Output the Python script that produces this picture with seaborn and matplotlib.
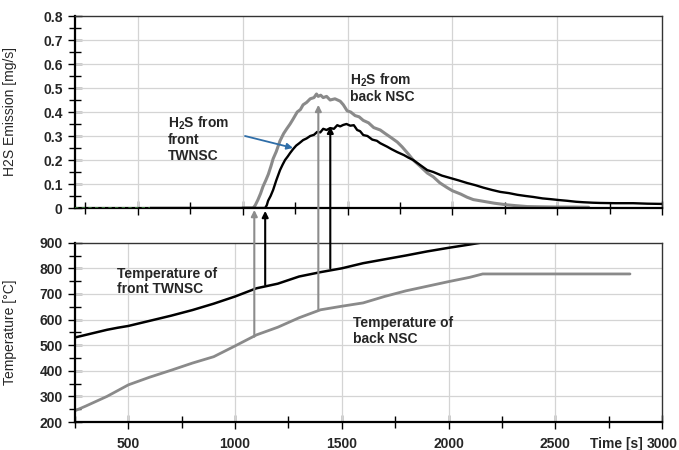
import matplotlib
matplotlib.use("Agg")
import matplotlib.pyplot as plt
import matplotlib.transforms as mtransforms
from matplotlib.ticker import MultipleLocator, FuncFormatter
import seaborn as sns
import pandas as pd

# ---------------- data ----------------
h2s_back_t = [1000, 1050, 1060, 1073, 1085, 1097, 1110, 1122, 1135, 1145, 1160, 1178, 1195, 1210,
              1226, 1240, 1260, 1275, 1288, 1305, 1322, 1340, 1352, 1360, 1372, 1384, 1400, 1417,
              1440, 1465, 1480, 1498, 1515, 1536, 1555, 1575, 1600, 1625, 1656, 1680, 1705, 1737,
              1760, 1790, 1813, 1845, 1880, 1909, 1940, 1975, 2000, 2040, 2070, 2100, 2147, 2200,
              2262, 2300, 2357, 2420, 2500, 2580, 2650]
h2s_back_v = [0, 0, 0.012, 0.035, 0.06, 0.09, 0.115, 0.14, 0.175, 0.205, 0.235, 0.28, 0.31, 0.33,
              0.35, 0.37, 0.40, 0.41, 0.43, 0.44, 0.455, 0.46, 0.475, 0.465, 0.47, 0.46, 0.465, 0.45,
              0.455, 0.445, 0.43, 0.405, 0.40, 0.385, 0.38, 0.365, 0.355, 0.335, 0.325, 0.31, 0.295, 0.275,
              0.255, 0.225, 0.20, 0.175, 0.146, 0.13, 0.105, 0.085, 0.072, 0.058, 0.045, 0.035, 0.028, 0.02,
              0.013, 0.01, 0.006, 0.005, 0.004, 0.004, 0.003]

h2s_front_t = [558, 1107, 1115, 1121, 1133, 1145, 1160, 1178, 1190, 1202, 1215, 1226, 1240, 1255,
               1270, 1288, 1305, 1322, 1340, 1355, 1370, 1384, 1400, 1417, 1435, 1451, 1465, 1479,
               1495, 1513, 1530, 1546, 1560, 1575, 1595, 1618, 1640, 1656, 1690, 1710, 1737, 1770,
               1790, 1813, 1845, 1880, 1909, 1950, 1990, 2030, 2071, 2110, 2147, 2190, 2229, 2270,
               2310, 2350, 2386, 2430, 2467, 2510, 2548, 2590, 2625, 2670, 2706, 2780, 2863, 2930, 3000]
h2s_front_v = [0, 0, 0.012, 0.03, 0.05, 0.075, 0.115, 0.158, 0.18, 0.20, 0.215, 0.229, 0.245, 0.26,
               0.27, 0.283, 0.29, 0.30, 0.305, 0.317, 0.315, 0.33, 0.325, 0.333, 0.33, 0.345, 0.34, 0.346,
               0.35, 0.343, 0.345, 0.325, 0.32, 0.304, 0.30, 0.285, 0.28, 0.27, 0.255, 0.245, 0.233, 0.22,
               0.21, 0.20, 0.18, 0.158, 0.15, 0.135, 0.125, 0.115, 0.104, 0.095, 0.085, 0.075, 0.067, 0.062,
               0.055, 0.05, 0.046, 0.04, 0.037, 0.033, 0.03, 0.026, 0.024, 0.022, 0.021, 0.02, 0.02, 0.018, 0.017]

baseline_t = [200, 558]
baseline_v = [0, 0]

temp_front_t = [250, 300, 400, 450, 500, 600, 700, 800, 900, 1000, 1100, 1200, 1300, 1400, 1500,
                1600, 1700, 1800, 1900, 2000, 2100, 2150, 3000]
temp_front_v = [530, 540, 560, 568, 575, 595, 615, 637, 662, 690, 722, 740, 768, 785, 800,
                820, 835, 850, 866, 880, 893, 900, 900]

temp_back_t = [250, 300, 400, 500, 600, 700, 800, 900, 1000, 1100, 1200, 1300, 1400, 1500, 1600,
               1700, 1800, 1900, 2000, 2100, 2160, 2850]
temp_back_v = [244, 262, 300, 345, 375, 402, 430, 455, 497, 540, 570, 607, 638, 652, 665,
               690, 712, 730, 748, 765, 778, 778]

# vertical arrows: time, base temperature (lower panel), tip H2S value (upper panel)
arrow_t = [1090, 1141, 1390, 1446]
arrow_base_T = [533, 735, 637, 800]
arrow_tip_v = [-0.008, -0.012, 0.43, 0.339]
arrow_color = ["#8c8c8c", "#000000", "#8c8c8c", "#000000"]

x_labels = ["500", "1000", "1500", "2000", "2500", "3000"]

# ---------------- style ----------------
sns.set_style("white")
plt.rcParams["font.family"] = ["Liberation Sans", "DejaVu Sans"]
plt.rcParams["font.weight"] = "bold"
plt.rcParams["mathtext.fontset"] = "custom"
plt.rcParams["mathtext.rm"] = "Liberation Sans:bold"
plt.rcParams["mathtext.bf"] = "Liberation Sans:bold"

fig = plt.figure(figsize=(6.79, 4.5), dpi=100)
W, H = 679, 450
ax_top = fig.add_axes([75 / W, 1 - 208 / H, (662 - 75) / W, (208 - 16) / H])
ax_bot = fig.add_axes([75 / W, 1 - 422 / H, (662 - 75) / W, (422 - 242.7) / H])

gray = "#8a8a8a"
grid_c = "#d4d4d4"

# ---------------- axes limits, locators, grid ----------------
ax_top.set_xlim(200, 3000)
ax_top.set_ylim(0, 0.8)
ax_top.yaxis.set_major_locator(MultipleLocator(0.1))
ax_top.yaxis.set_minor_locator(MultipleLocator(0.05))
ax_bot.set_xlim(250, 3000)
ax_bot.set_ylim(200, 900)
ax_bot.yaxis.set_major_locator(MultipleLocator(100))
ax_bot.yaxis.set_minor_locator(MultipleLocator(50))
for ax in (ax_top, ax_bot):
    ax.xaxis.set_major_locator(MultipleLocator(500))
    ax.xaxis.set_minor_locator(MultipleLocator(250))
    x0, x1 = ax.get_xlim()
    y0, y1 = ax.get_ylim()
    gx = [v for v in ax.xaxis.get_major_locator().tick_values(x0, x1) if x0 < v < x1 - 1e-6]
    gy = [v for v in ax.yaxis.get_major_locator().tick_values(y0, y1) if y0 + 1e-9 < v < y1 - 1e-9]
    ax.vlines(gx, y0, y1, colors=grid_c, lw=0.9, zorder=2.2)
    ax.hlines(gy, x0, x1, colors=grid_c, lw=0.9, zorder=2.2)
    ax.set_xlim(x0, x1)
    ax.set_ylim(y0, y1)

# ---------------- curves ----------------
df_back = pd.DataFrame({"t": h2s_back_t, "v": h2s_back_v})
df_front = pd.DataFrame({"t": h2s_front_t, "v": h2s_front_v})
sns.lineplot(data=df_back, x="t", y="v", ax=ax_top, color=gray, lw=2.2, estimator=None, sort=False, zorder=3)
sns.lineplot(data=df_front, x="t", y="v", ax=ax_top, color="black", lw=1.7, estimator=None, sort=False, zorder=4)
sns.lineplot(x=baseline_t, y=baseline_v, ax=ax_top, color="#3a7d3a", lw=1.2, ls=(0, (2, 2)),
             estimator=None, sort=False, zorder=6)

df_tf = pd.DataFrame({"t": temp_front_t, "v": temp_front_v})
df_tb = pd.DataFrame({"t": temp_back_t, "v": temp_back_v})
sns.lineplot(data=df_tb, x="t", y="v", ax=ax_bot, color=gray, lw=2.0, estimator=None, sort=False, zorder=3)
sns.lineplot(data=df_tf, x="t", y="v", ax=ax_bot, color="black", lw=1.8, estimator=None, sort=False, zorder=4)

# ---------------- ticks & spines ----------------
ax_top.yaxis.set_major_formatter(FuncFormatter(lambda v, p: "0" if abs(v) < 1e-9 else f"{v:.1f}"))
for ax in (ax_top, ax_bot):
    ax.set_xlabel("")
    ax.tick_params(axis="both", which="both", direction="inout", color="black", width=1.0,
                   left=True, right=False, bottom=True, top=False)
    ax.tick_params(axis="both", which="major", length=10, labelsize=10)
    ax.tick_params(axis="both", which="minor", length=8)
    ax.tick_params(axis="y", pad=4)
    ax.spines["left"].set_linewidth(1.6)
    ax.spines["bottom"].set_linewidth(1.6)
    ax.spines["left"].set_color("black")
    ax.spines["bottom"].set_color("black")
    ax.spines["top"].set_linewidth(1.0)
    ax.spines["right"].set_linewidth(1.0)
    ax.spines["top"].set_color("#333333")
    ax.spines["right"].set_color("#333333")
    for s in ax.spines.values():
        s.set_zorder(5)

ax_top.tick_params(axis="x", labelbottom=False)
ax_bot.tick_params(axis="x", pad=6)
ax_bot.xaxis.set_major_formatter(FuncFormatter(lambda v, p: str(int(v)) if str(int(v)) in x_labels else ""))

ax_top.set_ylabel("H2S Emission [mg/s]", fontsize=10, fontweight="normal")
ax_top.yaxis.set_label_coords(-0.098, 0.5)
ax_bot.set_ylabel("Temperature [°C]", fontsize=10, fontweight="normal")
ax_bot.yaxis.set_label_coords(-0.098, 0.5)

# ---------------- arrows ----------------
blend = mtransforms.blended_transform_factory(ax_bot.transData, ax_top.transData)
for t, base, tip, c in zip(arrow_t, arrow_base_T, arrow_tip_v, arrow_color):
    ax_bot.annotate("", xy=(t, tip), xycoords=blend, xytext=(t, base), textcoords=ax_bot.transData,
                    arrowprops=dict(arrowstyle="-|>", color=c, lw=1.5, shrinkA=0, shrinkB=0,
                                    mutation_scale=9),
                    annotation_clip=False, zorder=8)

ax_top.annotate("", xy=(1240, 0.25), xytext=(1011, 0.30),
                arrowprops=dict(arrowstyle="-|>", color="#2f6ea8", lw=1.3, shrinkA=0, shrinkB=0,
                                mutation_scale=9), zorder=8)

# ---------------- text annotations ----------------
ax_top.text(644, 0.39, "H$_\\mathbf{2}$S from\nfront\nTWNSC", fontsize=10, fontweight="bold",
            ha="left", va="top", linespacing=1.15, zorder=9)
ax_top.text(1513, 0.57, "H$_\\mathbf{2}$S from\nback NSC", fontsize=10, fontweight="bold",
            ha="left", va="top", linespacing=1.15, zorder=9)
ax_bot.text(447, 806, "Temperature of\nfront TWNSC", fontsize=10, fontweight="bold",
            ha="left", va="top", linespacing=1.15, zorder=9)
ax_bot.text(1554, 612, "Temperature of\nback NSC", fontsize=10, fontweight="bold",
            ha="left", va="top", linespacing=1.15, zorder=9)

fig.text(616 / W, 1 - 444 / H, "Time [s]", fontsize=10, fontweight="bold", ha="center", va="center")

fig.savefig("out.png", dpi=100)
